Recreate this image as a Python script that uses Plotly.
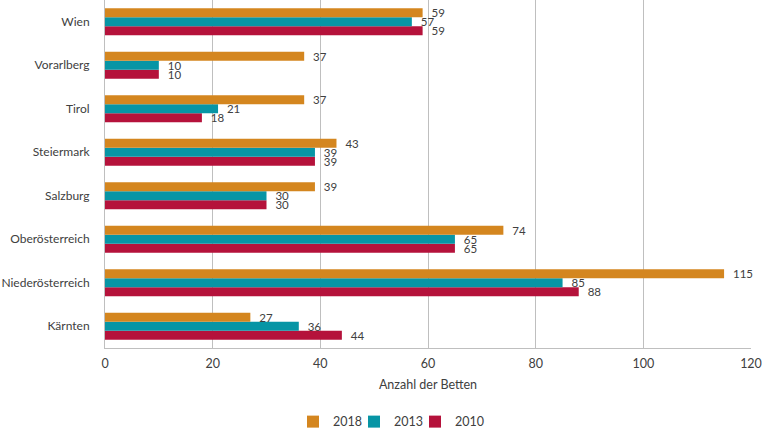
import plotly.graph_objects as go

categories = ["Kärnten", "Niederösterreich", "Oberösterreich", "Salzburg",
              "Steiermark", "Tirol", "Vorarlberg", "Wien"]
v2018 = [27, 115, 74, 39, 43, 37, 37, 59]
v2013 = [36, 85, 65, 30, 39, 21, 10, 57]
v2010 = [44, 88, 65, 30, 39, 18, 10, 59]
x_ticks = [0, 20, 40, 60, 80, 100, 120]

# name, values, colour, legend entry width
series = [("2010", v2010, "#B5123B", 30),
          ("2013", v2013, "#0795A5", 16),
          ("2018", v2018, "#D4861F", 16)]

fig = go.Figure()
for name, vals, col, lw in series:
    fig.add_trace(go.Bar(
        y=categories, x=vals, name=name, orientation="h",
        marker=dict(color=col, line=dict(width=0)),
        text=["\u00a0\u00a0" + str(v) for v in vals], textposition="outside",
        textfont=dict(family="Lato", size=11.5, color="#404040"),
        constraintext="none", cliponaxis=False, legendwidth=lw,
    ))

fig.update_layout(
    width=762, height=431,
    margin=dict(l=105, r=11, t=0, b=83),
    barmode="group", bargap=0.38, bargroupgap=0,
    plot_bgcolor="white", paper_bgcolor="white",
    font=dict(family="Lato", size=12, color="#404040"),
    legend=dict(orientation="h", xref="container", yref="container",
                x=0.3845, xanchor="left", y=0.0209, yanchor="middle",
                traceorder="reversed", font=dict(size=12.5), itemwidth=30,
                entrywidthmode="pixels", bgcolor="rgba(0,0,0,0)"),
    xaxis=dict(range=[0, 120], tickvals=x_ticks, showgrid=True, gridcolor="#BFBFBF",
               gridwidth=1, showline=True, linecolor="#BFBFBF", linewidth=1, ticks="",
               zeroline=False, tickfont=dict(size=12.5), automargin=False,
               ticklabelstandoff=4,
               title=dict(text="Anzahl der Betten", font=dict(size=12.5), standoff=10)),
    yaxis=dict(range=[-0.5, 7.5], showline=True, linecolor="#BFBFBF", linewidth=1,
               ticks="", tickfont=dict(size=12), showgrid=False, ticklabelstandoff=12,
               automargin=False),
)

fig.write_html("out.html", config={"displayModeBar": False},
               post_script="document.body.style.margin='0';document.body.style.overflow='hidden';")
